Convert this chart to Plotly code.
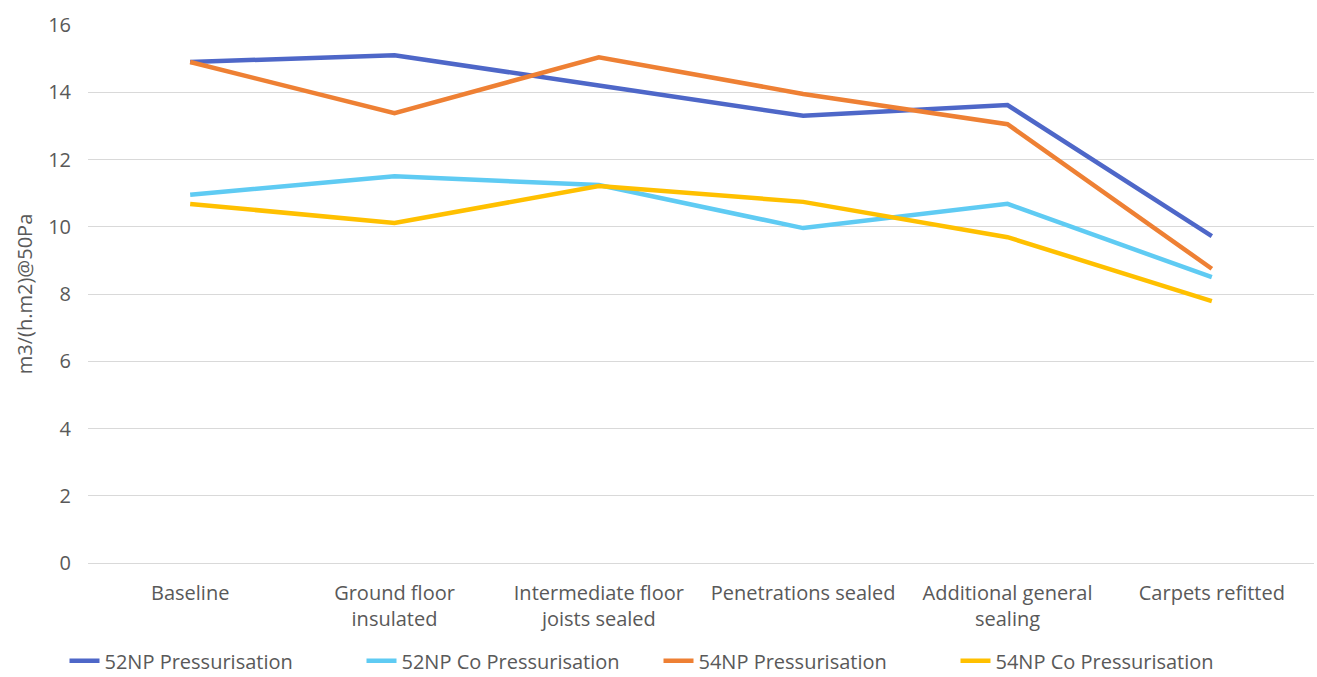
import plotly.graph_objects as go

categories = [
    "Baseline",
    "Ground floor<br>insulated",
    "Intermediate floor<br>joists sealed",
    "Penetrations sealed",
    "Additional general<br>sealing",
    "Carpets refitted",
]

np52_press = [14.9, 15.1, 14.2, 13.3, 13.62, 9.72]
np52_co_press = [10.95, 11.5, 11.24, 9.96, 10.68, 8.5]
np54_press = [14.9, 13.38, 15.04, 13.95, 13.05, 8.75]
np54_co_press = [10.68, 10.11, 11.21, 10.74, 9.69, 7.79]

series = [
    ("52NP Pressurisation", np52_press, "#4E67C8"),
    ("52NP Co Pressurisation", np52_co_press, "#5FCBF3"),
    ("54NP Pressurisation", np54_press, "#EE8034"),
    ("54NP Co Pressurisation", np54_co_press, "#FFC000"),
]

fig = go.Figure()
for name, vals, color in series:
    fig.add_trace(go.Scatter(
        x=categories, y=vals, name=name, mode="lines",
        line=dict(color=color, width=4.5),
    ))

font_family = "Open Sans, Noto Sans, sans-serif"
fig.update_layout(
    width=1317, height=677,
    margin=dict(l=88, r=3, t=25, b=114),
    plot_bgcolor="white", paper_bgcolor="white",
    font=dict(family=font_family, size=20, color="#595959"),
    showlegend=True,
    legend=dict(
        orientation="h", xref="container", x=0.5, xanchor="center",
        yref="container", y=0.024, yanchor="middle",
        font=dict(size=20, color="#595959"),
        entrywidth=252, entrywidthmode="pixels", traceorder="normal",
    ),
    xaxis=dict(
        range=[-0.5, 5.5], showgrid=False, showline=False, ticks="",
        tickfont=dict(size=20), automargin=False, ticklabelstandoff=16,
    ),
    yaxis=dict(
        range=[0, 16], dtick=2, showgrid=True, gridcolor="#D9D9D9", gridwidth=1.3,
        zeroline=True, zerolinecolor="#D9D9D9", zerolinewidth=1.3,
        showline=False, ticks="", tickfont=dict(size=20), automargin=False,
        ticklabelstandoff=16,
        title=dict(text="m3/(h.m2)@50Pa", font=dict(size=20), standoff=10),
    ),
)

fig.write_html("out.html")
